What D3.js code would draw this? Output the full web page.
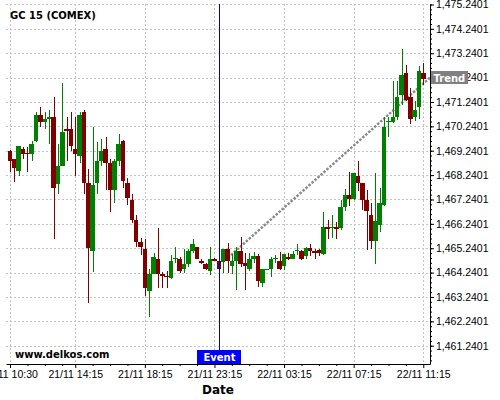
<html>
<head>
<script src="https://d3js.org/d3.v7.min.js"></script>
<style>
    body { margin: 0; background: #fff; }
    svg { display: block; font-family: "DejaVu Sans", sans-serif; }
    .tick text { font-size: 10.5px; fill: #000; }
</style>
</head>
<body>
<svg id="chart"></svg>
<script>
    // candle data, one entry per 15 min bar (index = bar number)
    var opens = [1469.23, 1468.90, 1468.41, 1469.31, 1469.16, 1469.12, 1469.64, 1470.71, 1470.43, 1470.55,
        1470.63, 1467.87, 1468.63, 1470.14, 1470.14, 1469.31, 1469.04, 1470.82, 1467.93, 1465.14,
        1467.93, 1468.82, 1469.31, 1468.75, 1467.64, 1468.82, 1469.64, 1467.93, 1467.21, 1466.39,
        1465.50, 1465.20, 1463.49, 1464.20, 1464.80, 1464.20, 1464.12, 1464.03, 1464.80, 1464.79,
        1464.39, 1464.60, 1465.14, 1465.28, 1464.73, 1464.60, 1464.32, 1464.79, 1464.72, 1464.66,
        1465.21, 1464.53, 1464.73, 1465.14, 1464.62, 1464.39, 1464.80, 1464.92, 1463.83, 1464.37,
        1464.39, 1464.80, 1464.72, 1464.52, 1464.89, 1464.80, 1465.13, 1465.14, 1464.93, 1465.23,
        1465.12, 1465.17, 1465.00, 1466.10, 1466.08, 1466.10, 1466.05, 1466.93, 1467.43, 1467.24,
        1468.21, 1467.91, 1467.22, 1466.61, 1465.52, 1466.20, 1467.02, 1470.40, 1470.41, 1470.62,
        1471.53, 1472.42, 1471.44, 1470.64, 1471.05, 1472.42];
    var highs = [1469.25, 1468.92, 1469.45, 1469.41, 1469.40, 1469.64, 1470.82, 1471.03, 1470.82, 1470.91,
        1471.44, 1469.51, 1472.01, 1470.62, 1470.82, 1470.62, 1470.82, 1470.91, 1468.49, 1470.20,
        1469.58, 1469.71, 1469.79, 1468.89, 1468.89, 1469.92, 1469.66, 1468.11, 1467.45, 1466.60,
        1465.68, 1465.60, 1464.37, 1465.06, 1466.06, 1464.25, 1464.30, 1464.96, 1465.28, 1464.87,
        1465.20, 1465.20, 1465.61, 1465.30, 1464.79, 1464.62, 1465.31, 1464.82, 1464.75, 1465.21,
        1465.44, 1465.00, 1465.28, 1465.69, 1465.03, 1465.06, 1465.10, 1465.00, 1464.40, 1464.40,
        1464.89, 1464.96, 1465.10, 1464.99, 1465.03, 1465.14, 1465.41, 1465.16, 1465.27, 1465.41,
        1465.22, 1465.22, 1466.71, 1466.40, 1466.60, 1466.33, 1467.20, 1467.66, 1468.38, 1468.31,
        1468.80, 1467.93, 1467.61, 1467.08, 1468.32, 1467.70, 1470.62, 1470.62, 1472.12, 1472.12,
        1473.41, 1472.76, 1471.81, 1471.26, 1472.70, 1472.83];
    var lows = [1468.38, 1467.97, 1468.20, 1468.90, 1468.38, 1468.80, 1469.60, 1470.20, 1470.14, 1469.51,
        1465.60, 1467.45, 1468.60, 1468.80, 1469.23, 1468.20, 1468.73, 1467.45, 1462.98, 1464.28,
        1467.45, 1468.62, 1467.62, 1466.73, 1467.08, 1468.62, 1467.71, 1467.01, 1466.28, 1465.30,
        1464.96, 1463.29, 1462.40, 1464.18, 1463.59, 1463.59, 1463.60, 1463.98, 1464.65, 1464.21,
        1464.21, 1464.48, 1465.06, 1464.79, 1464.58, 1464.35, 1464.14, 1464.70, 1464.35, 1464.24,
        1464.24, 1464.18, 1463.53, 1464.48, 1463.53, 1464.30, 1464.62, 1463.66, 1463.64, 1464.35,
        1464.07, 1464.62, 1464.35, 1464.35, 1464.76, 1464.78, 1464.96, 1464.77, 1464.78, 1464.92,
        1464.78, 1464.92, 1464.98, 1465.62, 1465.65, 1465.60, 1466.00, 1466.75, 1466.98, 1467.20,
        1467.57, 1466.80, 1465.15, 1465.19, 1464.59, 1465.91, 1466.98, 1469.82, 1470.37, 1470.52,
        1471.12, 1471.30, 1470.33, 1470.44, 1470.53, 1471.94];
    var closes = [1468.83, 1468.55, 1469.44, 1469.12, 1469.12, 1469.52, 1470.71, 1470.43, 1470.55, 1470.63,
        1467.73, 1468.63, 1470.01, 1470.03, 1469.44, 1469.12, 1470.71, 1467.93, 1465.24, 1467.83,
        1468.82, 1469.23, 1468.75, 1467.64, 1468.82, 1469.52, 1468.01, 1467.31, 1466.39, 1465.50,
        1465.30, 1463.61, 1464.20, 1464.88, 1464.20, 1464.10, 1464.10, 1464.72, 1464.83, 1464.32,
        1464.59, 1465.14, 1465.42, 1464.79, 1464.62, 1464.39, 1464.79, 1464.72, 1464.39, 1465.21,
        1464.73, 1464.73, 1465.14, 1464.60, 1464.53, 1464.80, 1464.92, 1463.90, 1464.37, 1464.40,
        1464.80, 1464.82, 1464.39, 1464.99, 1464.80, 1464.99, 1465.15, 1464.80, 1465.23, 1465.12,
        1465.03, 1465.03, 1466.10, 1466.03, 1466.12, 1466.04, 1466.93, 1467.42, 1467.24, 1468.31,
        1467.91, 1467.23, 1466.75, 1465.52, 1466.34, 1467.09, 1470.21, 1470.45, 1470.62, 1471.44,
        1472.35, 1471.33, 1470.55, 1470.92, 1472.52, 1472.18];

    // x axis ticks (bar index) and labels
    var xTickIdx = [0, 15, 31, 47, 63, 79, 95];
    var xTickLabels = ["21/11 10:30", "21/11 14:15", "21/11 18:15", "21/11 23:15", "22/11 03:15", "22/11 07:15", "22/11 11:15"];

    var yTicks = [1461.2401, 1462.2401, 1463.2401, 1464.2401, 1465.2401, 1466.2401, 1467.2401,
        1468.2401, 1469.2401, 1470.2401, 1471.2401, 1472.2401, 1473.2401, 1474.2401, 1475.2401];

    var eventIdx = 48;
    var trendIdx = [50.8, 96.55];
    var trendVal = [1464.96, 1472.2401];

    var width = 500, height = 400;
    var plotLeft = 6, plotRight = 430, plotTop = 4, plotBottom = 364;

    var svg = d3.select("#chart")
        .attr("width", width)
        .attr("height", height);

    var x = d3.scaleLinear().domain([-0.92, 96.55]).range([plotLeft, plotRight]);
    var y = d3.scaleLinear().domain([1460.49, 1475.26]).range([plotBottom, plotTop]);

    // grid
    var grid = svg.append("g")
        .attr("stroke", "#c4c4c4")
        .attr("stroke-dasharray", "2,2")
        .attr("shape-rendering", "crispEdges");
    grid.selectAll(".hg").data(yTicks).enter().append("line")
        .attr("x1", plotLeft).attr("x2", plotRight)
        .attr("y1", d => Math.round(y(d)) + 0.5).attr("y2", d => Math.round(y(d)) + 0.5);
    grid.selectAll(".vg").data(xTickIdx).enter().append("line")
        .attr("y1", plotTop).attr("y2", plotBottom)
        .attr("x1", d => Math.round(x(d)) + 0.5).attr("x2", d => Math.round(x(d)) + 0.5);

    // trend line (behind the candles)
    svg.append("line")
        .attr("x1", x(trendIdx[0])).attr("y1", y(trendVal[0]))
        .attr("x2", x(trendIdx[1])).attr("y2", y(trendVal[1]))
        .attr("stroke", "#888")
        .attr("stroke-width", 2.4)
        .attr("stroke-dasharray", "2.5,1.5");

    // candles
    var bars = d3.range(opens.length);
    var color = i => closes[i] >= opens[i] ? "#008000" : "#800000";
    var candles = svg.append("g").attr("shape-rendering", "crispEdges");
    candles.selectAll(".wick").data(bars).enter().append("line")
        .attr("x1", i => Math.round(x(i)) + 0.5).attr("x2", i => Math.round(x(i)) + 0.5)
        .attr("y1", i => y(highs[i])).attr("y2", i => y(lows[i]))
        .attr("stroke", color);
    candles.selectAll(".body").data(bars).enter().append("rect")
        .attr("x", i => x(i) - 2.3)
        .attr("width", 4.6)
        .attr("y", i => y(Math.max(opens[i], closes[i])))
        .attr("height", i => Math.max(1, Math.abs(y(opens[i]) - y(closes[i]))))
        .attr("fill", color);

    // event marker
    svg.append("line")
        .attr("x1", Math.round(x(eventIdx)) + 0.5).attr("x2", Math.round(x(eventIdx)) + 0.5)
        .attr("y1", plotTop).attr("y2", plotBottom)
        .attr("stroke", "#0000cc")
        .attr("shape-rendering", "crispEdges");

    // right axis
    svg.append("g")
        .attr("transform", "translate(" + plotRight + ",0)")
        .call(d3.axisRight(y).tickValues(d3.range(1460.6401, 1475.3, 0.2)).tickSize(2).tickFormat(""))
        .call(g => g.select(".domain").remove());
    svg.append("g")
        .attr("transform", "translate(" + plotRight + ",0)")
        .call(d3.axisRight(y).tickValues(yTicks).tickSize(4).tickSizeOuter(0).tickPadding(2).tickFormat(d3.format(",.4f")));

    // bottom axis, minor ticks every 4 bars (1 hour)
    var minorX = [];
    xTickIdx.forEach(function (t, k) {
        var next = k < xTickIdx.length - 1 ? xTickIdx[k + 1] : 96;
        for (var m = t + 4; m < next; m += 4) minorX.push(m);
    });
    svg.append("g")
        .attr("transform", "translate(0," + plotBottom + ")")
        .call(d3.axisBottom(x).tickValues(minorX).tickSize(2).tickFormat(""))
        .call(g => g.select(".domain").remove());
    svg.append("g")
        .attr("transform", "translate(0," + plotBottom + ")")
        .call(d3.axisBottom(x).tickValues(xTickIdx).tickSize(4).tickSizeOuter(0).tickPadding(3)
            .tickFormat((d, k) => xTickLabels[k]));

    // labels
    svg.append("text")
        .attr("x", 10).attr("y", 19)
        .attr("font-size", 10).attr("font-weight", "bold")
        .text("GC 15 (COMEX)");

    svg.append("text")
        .attr("x", 15).attr("y", 357.5)
        .attr("font-size", 10).attr("font-weight", "bold")
        .text("www.delkos.com");

    svg.append("text")
        .attr("x", (plotLeft + plotRight) / 2).attr("y", 394)
        .attr("text-anchor", "middle")
        .attr("font-size", 12).attr("font-weight", "bold")
        .text("Date");

    var ex = Math.round(x(eventIdx));
    svg.append("rect")
        .attr("x", ex - 22).attr("y", 350).attr("width", 44).attr("height", 14)
        .attr("fill", "#0000ff");
    svg.append("text")
        .attr("x", ex + 0.5).attr("y", 361)
        .attr("text-anchor", "middle")
        .attr("font-size", 10).attr("font-weight", "bold")
        .attr("fill", "#fff")
        .text("Event");

    var ty = y(trendVal[1]);
    svg.append("rect")
        .attr("x", plotRight + 1).attr("y", Math.round(ty) - 7).attr("width", 37).attr("height", 13)
        .attr("fill", "#808080");
    svg.append("text")
        .attr("x", plotRight + 3.5).attr("y", Math.round(ty) + 3.5)
        .attr("font-size", 10).attr("font-weight", "bold")
        .attr("fill", "#fff")
        .text("Trend");
</script>
</body>
</html>
